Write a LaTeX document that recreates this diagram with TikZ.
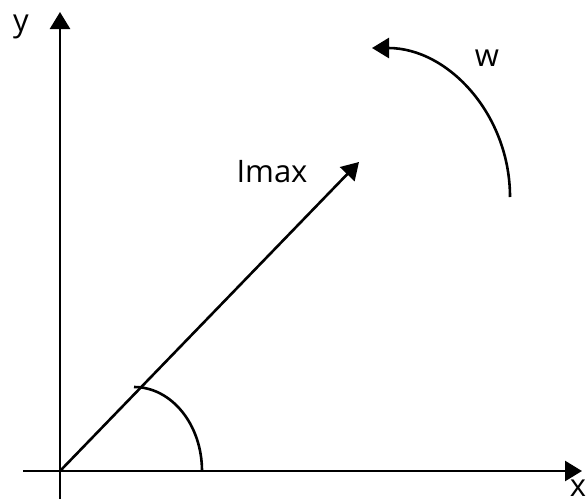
\documentclass[tikz,border=0pt]{standalone}
\usepackage{fontspec}
\setmainfont{Open Sans}
\usetikzlibrary{arrows.meta}
\begin{document}
\begin{tikzpicture}[x=1pt,y=-1pt,
  ln/.style={line width=2.6pt,draw=black},
  arr/.style={ln,-{Triangle[length=17pt,width=20pt]}},
  lbl/.style={font=\fontsize{31}{36}\selectfont,inner sep=0pt}]
\useasboundingbox (0,0) rectangle (587,499);
\coordinate (O) at (60,471);
\coordinate (ybot) at (60,499);
\coordinate (ytop) at (60,12);
\coordinate (xleft) at (23,471);
\coordinate (xright) at (582,471);
\coordinate (Itip) at (359,162);
\coordinate (ang) at (202,471);
\coordinate (wstart) at (510,197);
\draw[arr] (ybot) -- (ytop);
\draw[arr] (xleft) -- (xright);
\draw[arr] (O) -- (Itip);
\draw[ln] (ang) arc[start angle=0,end angle=90,x radius=68,y radius=-84];
\draw[arr] (wstart) arc[start angle=0,end angle=90,x radius=138,y radius=-149];
\node[lbl] (ylab) at (21,27) {y};
\node[lbl] (xlab) at (578,488) {x};
\node[lbl] (imax) at (272,172) {Imax};
\node[lbl] (wlab) at (487,58) {w};
\end{tikzpicture}
\end{document}
